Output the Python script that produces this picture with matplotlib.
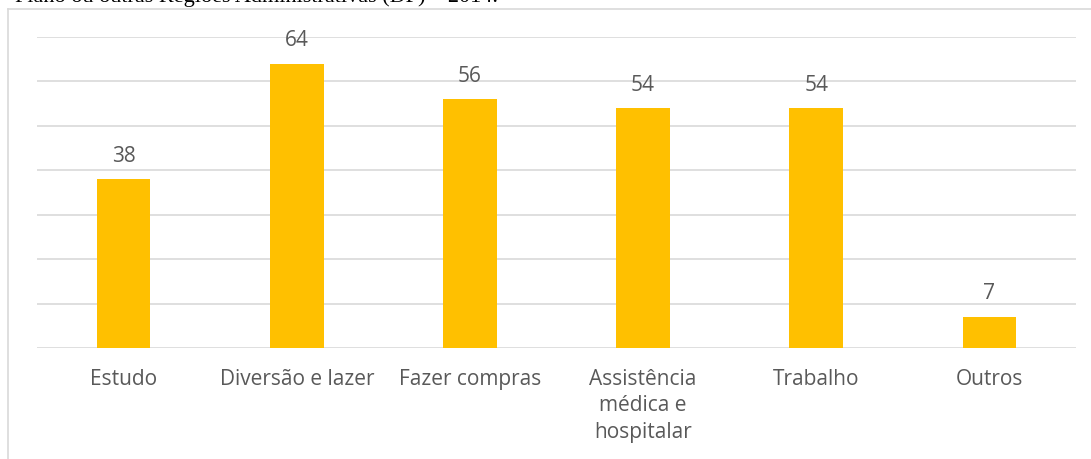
import matplotlib.pyplot as plt
from matplotlib.lines import Line2D

# data
categories = ['Estudo', 'Diversão e lazer', 'Fazer compras',
              'Assistência\nmédica e\nhospitalar', 'Trabalho', 'Outros']
values = [38, 64, 56, 54, 54, 7]

W, H = 1091, 459
fig = plt.figure(figsize=(W / 100, H / 100), dpi=100)
plt.rcParams['font.family'] = ['Open Sans', 'DejaVu Sans']

text_color = '#595959'
grid_color = '#D9D9D9'

# chart frame (partly outside the picture)
fig.add_artist(Line2D([8 / W, 1.0], [1 - 9 / H, 1 - 9 / H], color=grid_color, lw=1.2,
                      transform=fig.transFigure))
fig.add_artist(Line2D([8 / W, 8 / W], [0, 1 - 9 / H], color=grid_color, lw=1.2,
                      transform=fig.transFigure))

# caption cut off at the top, as in the source page
fig.text(15 / W, 1 - 2 / H, 'Plano ou outras Regiões Administrativas (DF) – 2014.',
         family='Liberation Serif', fontsize=16, color='black', va='baseline', ha='left')

ax = fig.add_axes([37 / W, 111 / H, (1076 - 37) / W, 311 / H])
x = range(len(categories))
bars = ax.bar(x, values, width=0.31, color='#FFC000', zorder=3)

ax.set_ylim(0, 70)
ax.set_xlim(-0.5, len(categories) - 0.5)
ax.set_yticks(range(0, 71, 10))
ax.yaxis.grid(True, color=grid_color, lw=1.2, zorder=0)
ax.tick_params(axis='y', length=0, labelleft=False)
ax.tick_params(axis='x', length=0, pad=15, labelsize=15, labelcolor=text_color)
ax.set_xticks(list(x))
ax.set_xticklabels(categories, linespacing=1.35, va='top')
for s in ax.spines.values():
    s.set_visible(False)

for b, v in zip(bars, values):
    ax.annotate(str(v), (b.get_x() + b.get_width() / 2, v), xytext=(0, 9),
                textcoords='offset points', ha='center', va='bottom',
                fontsize=15, color=text_color)

fig.savefig('out.png', dpi=100)
